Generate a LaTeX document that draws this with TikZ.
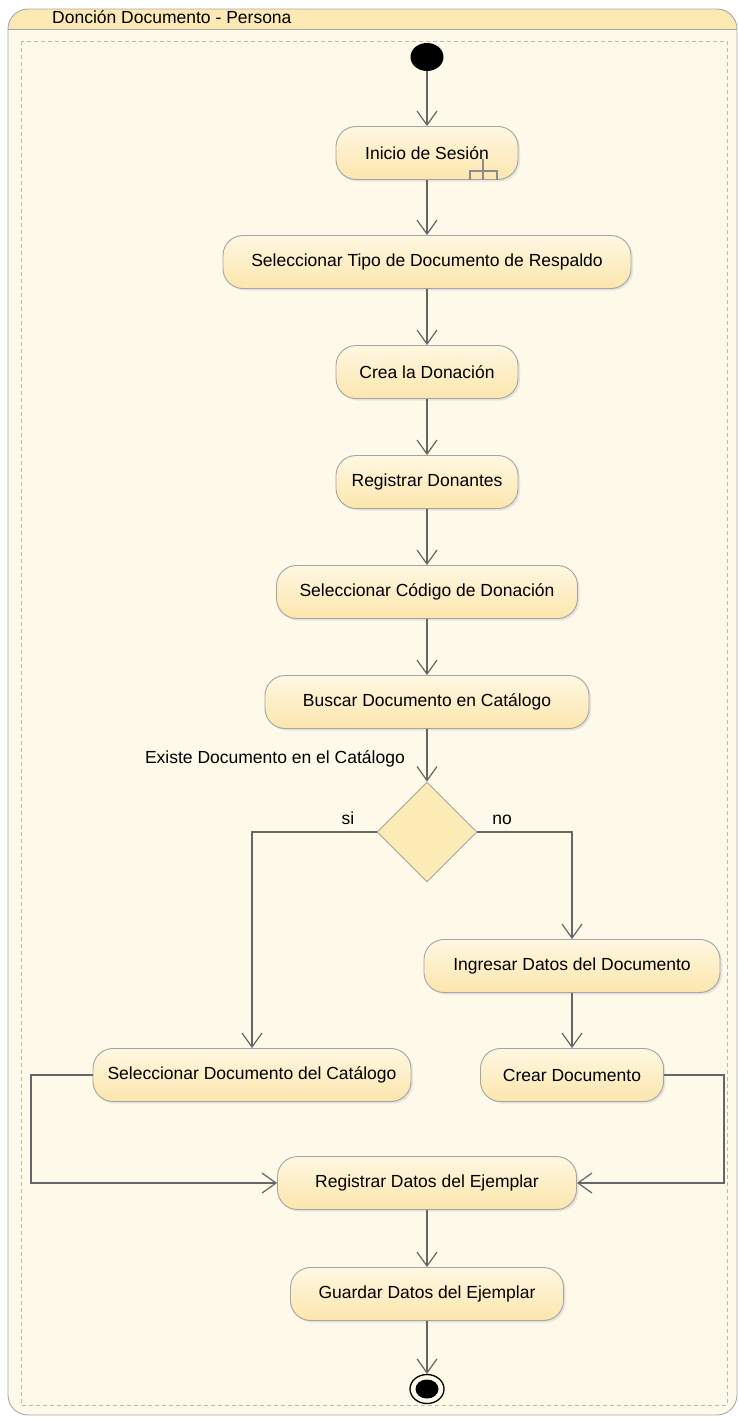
\documentclass[tikz,border=0pt]{standalone}
\usepackage{fontspec}
\setmainfont{Liberation Sans}
\usetikzlibrary{arrows.meta,shapes.geometric,shadows}
\definecolor{hdr}{HTML}{FBE8B3}
\definecolor{body}{HTML}{FEF9E9}
\definecolor{frameb}{HTML}{A8A8A8}
\definecolor{dashc}{HTML}{B9B9B9}
\definecolor{nodeb}{HTML}{A4A4A4}
\definecolor{ntop}{HTML}{FEF7E2}
\definecolor{nbot}{HTML}{FCE6AC}
\definecolor{lineg}{HTML}{666666}
\definecolor{decf}{HTML}{FDEBB6}
\definecolor{rakec}{HTML}{8C8C8C}
\begin{document}
\begin{tikzpicture}[x=1pt,y=-1pt,
  every node/.style={font=\fontsize{17.5}{21}\selectfont},
  act/.style={draw=nodeb, line width=0.9pt, rounded corners=20pt,
    top color=ntop, bottom color=nbot, minimum height=53pt, inner sep=0pt,
    drop shadow={shadow xshift=2pt, shadow yshift=-2pt, fill=black!18}},
  conn/.style={draw=lineg, line width=1.2pt, -{Straight Barb[length=14pt,width=20pt]}},
  lbl/.style={inner sep=0pt}]
\useasboundingbox (0,0) rectangle (738,1418);
% frame
\path[fill=body] [rounded corners=20pt] (8,9) rectangle (737,1415);
\begin{scope}
  \clip[rounded corners=20pt] (8,9) rectangle (737,1415);
  \fill[hdr] (8,9) rectangle (737,29);
\end{scope}
\draw[frameb, line width=0.9pt, rounded corners=20pt] (8,9) rectangle (737,1415);
\draw[frameb, line width=0.9pt] (8,29) -- (737,29);
\node[lbl, anchor=base west] (title) at (52,24) {Donción Documento - Persona};
\draw[dashc, line width=0.7pt, dash pattern=on 4pt off 3pt] (21,41) rectangle (727,1405);

% nodes
\node[ellipse, fill=black, minimum width=33pt, minimum height=28pt, inner sep=0pt] (ini) at (427,57) {};
\node[act, minimum width=182pt] (inicio) at (427,153) {Inicio de Sesión};
\node[act, minimum width=408pt] (tipo) at (427,262) {Seleccionar Tipo de Documento de Respaldo};
\node[act, minimum width=182pt] (crea) at (427,372) {Crea la Donación};
\node[act, minimum width=182pt] (donantes) at (427,482) {Registrar Donantes};
\node[act, minimum width=301pt] (codigo) at (427,592) {Seleccionar Código de Donación};
\node[act, minimum width=324pt] (buscar) at (427,702) {Buscar Documento en Catálogo};
\node[diamond, draw=nodeb, line width=0.9pt, fill=decf, minimum width=100pt, minimum height=100pt, inner sep=0pt] (dec) at (427,832) {};
\node[lbl, anchor=east] (q) at (405,759) {Existe Documento en el Catálogo};
\node[lbl] (si) at (348,818) {si};
\node[lbl] (no) at (502,820) {no};
\node[act, minimum width=296pt] (ing) at (572,966) {Ingresar Datos del Documento};
\node[act, minimum width=318pt] (sel) at (252,1075) {Seleccionar Documento del Catálogo};
\node[act, minimum width=183pt] (crear) at (572,1075) {Crear Documento};
\node[act, minimum width=299pt] (reg) at (427,1183) {Registrar Datos del Ejemplar};
\node[act, minimum width=273pt] (guardar) at (427,1294) {Guardar Datos del Ejemplar};
\node[ellipse, draw=black, line width=1.3pt, minimum width=34pt, minimum height=29pt, inner sep=0pt] (fin) at (427,1389) {};
\fill[black] (fin.center) ellipse [x radius=11.5pt, y radius=9.5pt];

% rake symbol
\draw[rakec, line width=1.1pt] (483,159) -- (483,180) (470,180) -- (470,171) -- (497,171) -- (497,180);

% connectors
\coordinate (lb) at (31,1183);
\coordinate (rb) at (724,1183);
\draw[conn] (ini) -- (inicio);
\draw[conn] (inicio) -- (tipo);
\draw[conn] (tipo) -- (crea);
\draw[conn] (crea) -- (donantes);
\draw[conn] (donantes) -- (codigo);
\draw[conn] (codigo) -- (buscar);
\draw[conn] (buscar) -- (dec);
\draw[conn] (dec.west) -| (sel.north);
\draw[conn] (dec.east) -| (ing.north);
\draw[conn] (ing) -- (crear);
\draw[conn] (sel.west) -| (lb) -- (reg.west);
\draw[conn] (crear.east) -| (rb) -- (reg.east);
\draw[conn] (reg) -- (guardar);
\draw[conn] (guardar) -- (fin);
\end{tikzpicture}
\end{document}
